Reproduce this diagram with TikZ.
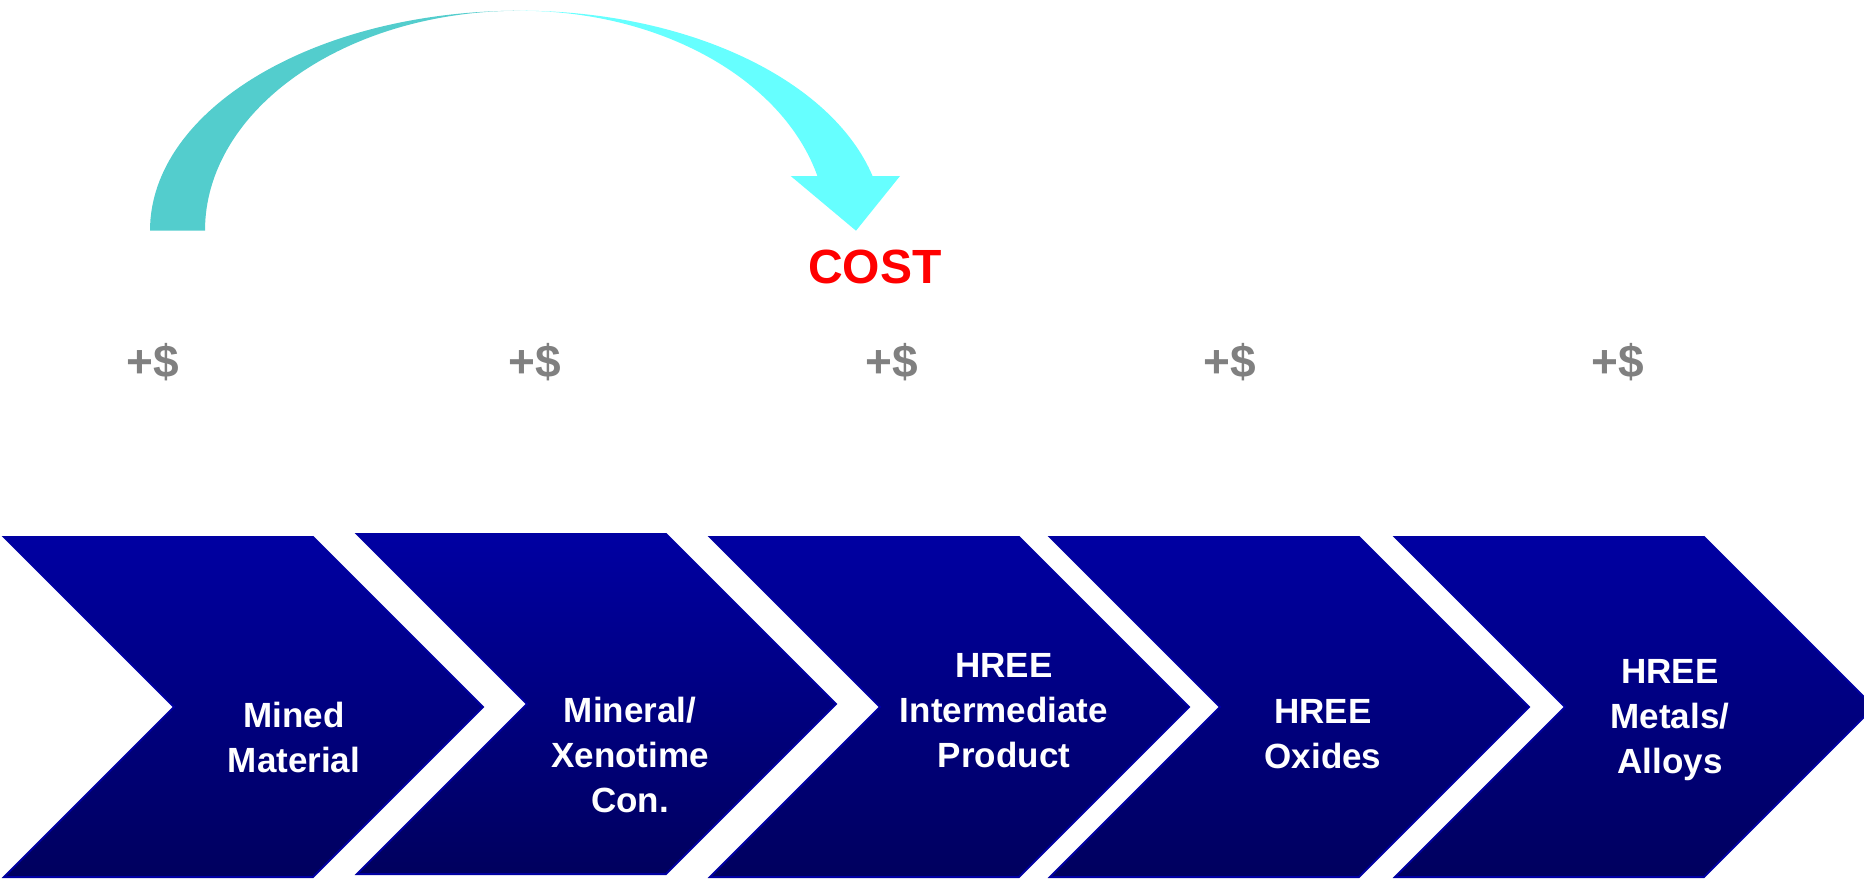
\documentclass[tikz,border=0pt]{standalone}
\usepackage{fontspec}
\setmainfont{Liberation Sans}
\definecolor{chevtop}{RGB}{0,0,162}
\definecolor{chevbot}{RGB}{0,0,94}
\definecolor{arcback}{RGB}{83,205,205}
\definecolor{arcfront}{RGB}{102,255,255}
\definecolor{dollargray}{RGB}{128,128,128}
\begin{document}
\begin{tikzpicture}[x=.5pt,y=-.5pt,
  chevron/.style={top color=chevtop,bottom color=chevbot,draw=chevtop,line width=1pt},
  steptext/.style={text=white,align=center,font=\fontsize{17.5}{22.5}\selectfont\bfseries},
  gain/.style={text=dollargray,anchor=base,font=\fontsize{23}{27}\selectfont\bfseries}]
  \clip (0,0) rectangle (1864,879);
  % value chain, one chevron per step (left x / top y)
  \foreach \x/\t in {4/537,357/534,710/537,1050/537,1395/537} {
    \path[chevron] (\x,\t) -- ++(309,0) -- ++(170,170) -- ++(-170,170)
      -- ++(-309,0) -- ++(170,-170) -- cycle;
  }
  \node[steptext] (mined) at (294,737) {Mined\\Material};
  \node[steptext] (xeno) at (630,755) {Mineral/\\Xenotime\\Con.};
  \node[steptext] (inter) at (1004,711) {HREE\\Intermediate\\Product};
  \node[steptext] (oxides) at (1323,734) {HREE\\Oxides};
  \node[steptext] (metals) at (1670,720) {HREE\\Metals/\\Alloys};
  % added cost over each step
  \foreach \x/\n in {153/a,535/b,892/c,1230/d,1618/e}
    \node[gain] (gain\n) at (\x,377) {+\$};
  % curved cost arrow: back half, then front half with the head
  \fill[arcback] (150,230.7)
    arc[start angle=180,end angle=270,x radius=370,y radius=220]
    arc[start angle=270,end angle=180,x radius=315,y radius=220] -- cycle;
  \fill[arcfront] (520,10.7)
    arc[start angle=270,end angle=345.6,x radius=364,y radius=220]
    -- (900,176) -- (856,230.7) -- (790.7,176) -- (817.4,176)
    arc[start angle=345.6,end angle=270,x radius=307,y radius=220] -- cycle;
  \node[text=red,anchor=base,font=\fontsize{24}{28}\selectfont\bfseries] (cost) at (875,283) {COST};
\end{tikzpicture}
\end{document}
